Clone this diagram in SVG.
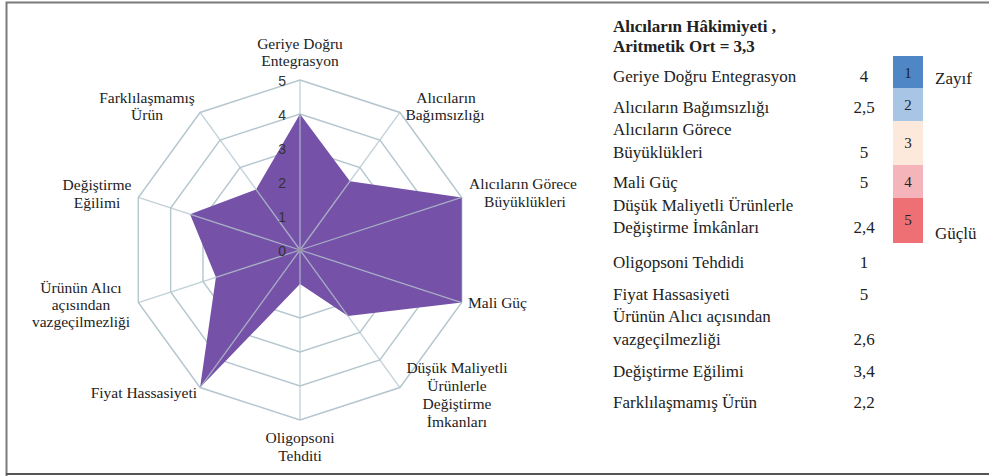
<svg xmlns="http://www.w3.org/2000/svg" width="989" height="476" viewBox="0 0 989 476">
<style>
.lbl{font-family:'Liberation Serif','Times New Roman','DejaVu Serif',serif;font-size:15.5px;fill:#222;text-anchor:middle}
.tbl{font-family:'Liberation Serif','Times New Roman','DejaVu Serif',serif;font-size:17px;fill:#222}
.val{text-anchor:middle}
.num{font-family:'Liberation Sans',Arial,sans-serif;font-size:14px;fill:#333;text-anchor:end}
.ring{fill:none;stroke:#b4c6ce;stroke-width:1.4}
.spoke{stroke:#b4c6ce;stroke-width:1.3;opacity:0.8}
.lg{font-family:'Liberation Serif','Times New Roman','DejaVu Serif',serif;font-size:15px;fill:#222;text-anchor:middle}
</style>
<rect x="0" y="0" width="989" height="476" fill="#fff"/>
<path d="M6.5,476 V2.5 H989" fill="none" stroke="#7a7a7a" stroke-width="2"/>
<line x1="6" y1="474" x2="989" y2="474" stroke="#555" stroke-width="2"/>

<g id="grid">
<polygon class="ring" points="300,216 319.99,222.49 332.34,239.49 332.34,260.51 319.99,277.51 300,284 280.01,277.51 267.66,260.51 267.66,239.49 280.01,222.49"/>
<polygon class="ring" points="300,182 339.97,194.99 364.67,228.99 364.67,271.01 339.97,305.01 300,318 260.03,305.01 235.33,271.01 235.33,228.99 260.03,194.99"/>
<polygon class="ring" points="300,148 359.96,167.48 397.01,218.48 397.01,281.52 359.96,332.52 300,352 240.04,332.52 202.99,281.52 202.99,218.48 240.04,167.48"/>
<polygon class="ring" points="300,114 379.94,139.98 429.35,207.98 429.35,292.02 379.94,360.02 300,386 220.06,360.02 170.65,292.02 170.65,207.98 220.06,139.98"/>
<polygon class="ring" points="300,80 399.93,112.47 461.69,197.47 461.69,302.53 399.93,387.53 300,420 200.07,387.53 138.31,302.53 138.31,197.47 200.07,112.47"/>
</g>

<g id="series">
<polygon points="300,114 349.96,181.23 461.69,197.47 461.69,302.53 347.96,316.01 300,284 200.07,387.53 215.92,277.32 190.05,214.28 256.03,189.49" fill="#7551a8"/>
</g>

<g id="spokes">
<line class="spoke" x1="300" y1="250" x2="300" y2="80"/>
<line class="spoke" x1="300" y1="250" x2="399.93" y2="112.47"/>
<line class="spoke" x1="300" y1="250" x2="461.69" y2="197.47"/>
<line class="spoke" x1="300" y1="250" x2="461.69" y2="302.53"/>
<line class="spoke" x1="300" y1="250" x2="399.93" y2="387.53"/>
<line class="spoke" x1="300" y1="250" x2="300" y2="420"/>
<line class="spoke" x1="300" y1="250" x2="200.07" y2="387.53"/>
<line class="spoke" x1="300" y1="250" x2="138.31" y2="302.53"/>
<line class="spoke" x1="300" y1="250" x2="138.31" y2="197.47"/>
<line class="spoke" x1="300" y1="250" x2="200.07" y2="112.47"/>
<circle cx="300" cy="250" r="2" fill="#999"/>
</g>

<g id="scale">
<text class="num" x="286" y="256">0</text>
<text class="num" x="286" y="222">1</text>
<text class="num" x="286" y="188">2</text>
<text class="num" x="286" y="154">3</text>
<text class="num" x="286" y="120">4</text>
<text class="num" x="286" y="86">5</text>
</g>

<g id="axis-labels">
<text class="lbl" x="300" y="49">Geriye Doğru</text>
<text class="lbl" x="300" y="66">Entegrasyon</text>
<text class="lbl" x="446" y="103">Alıcıların</text>
<text class="lbl" x="445" y="120">Bağımsızlığı</text>
<text class="lbl" x="523" y="189">Alıcıların Görece</text>
<text class="lbl" x="525" y="207">Büyüklükleri</text>
<text class="lbl" x="468" y="308" style="text-anchor:start">Mali Güç</text>
<text class="lbl" x="457" y="373">Düşük Maliyetli</text>
<text class="lbl" x="457" y="391">Ürünlerle</text>
<text class="lbl" x="457" y="409">Değiştirme</text>
<text class="lbl" x="457" y="427">İmkanları</text>
<text class="lbl" x="300" y="443">Oligopsoni</text>
<text class="lbl" x="300" y="461">Tehditi</text>
<text class="lbl" x="197" y="398" style="text-anchor:end">Fiyat Hassasiyeti</text>
<text class="lbl" x="81" y="293">Ürünün Alıcı</text>
<text class="lbl" x="81" y="310">açısından</text>
<text class="lbl" x="81" y="327">vazgeçilmezliği</text>
<text class="lbl" x="97" y="190">Değiştirme</text>
<text class="lbl" x="97" y="208">Eğilimi</text>
<text class="lbl" x="147" y="103">Farklılaşmamış</text>
<text class="lbl" x="147" y="120">Ürün</text>
</g>

<g id="table">
<text class="tbl" x="613" y="32" font-weight="bold">Alıcıların Hâkimiyeti ,</text>
<text class="tbl" x="613" y="52" font-weight="bold">Aritmetik Ort = 3,3</text>
<text class="tbl" x="613" y="82">Geriye Doğru Entegrasyon</text>
<text class="tbl val" x="864" y="82">4</text>
<text class="tbl" x="613" y="113">Alıcıların Bağımsızlığı</text>
<text class="tbl val" x="864" y="113">2,5</text>
<text class="tbl" x="613" y="135">Alıcıların Görece</text>
<text class="tbl" x="613" y="158">Büyüklükleri</text>
<text class="tbl val" x="864" y="158">5</text>
<text class="tbl" x="613" y="188">Mali Güç</text>
<text class="tbl val" x="864" y="188">5</text>
<text class="tbl" x="613" y="211">Düşük Maliyetli Ürünlerle</text>
<text class="tbl" x="613" y="233">Değiştirme İmkânları</text>
<text class="tbl val" x="864" y="233">2,4</text>
<text class="tbl" x="613" y="268">Oligopsoni Tehdidi</text>
<text class="tbl val" x="864" y="268">1</text>
<text class="tbl" x="613" y="300">Fiyat Hassasiyeti</text>
<text class="tbl val" x="864" y="300">5</text>
<text class="tbl" x="613" y="322">Ürünün Alıcı açısından</text>
<text class="tbl" x="613" y="345">vazgeçilmezliği</text>
<text class="tbl val" x="864" y="345">2,6</text>
<text class="tbl" x="613" y="377">Değiştirme Eğilimi</text>
<text class="tbl val" x="864" y="377">3,4</text>
<text class="tbl" x="613" y="408">Farklılaşmamış Ürün</text>
<text class="tbl val" x="864" y="408">2,2</text>
</g>

<g id="legend">
<rect x="893" y="56" width="30" height="32" fill="#4f86c6"/>
<rect x="893" y="88" width="30" height="33" fill="#a9c5e6"/>
<rect x="893" y="121" width="30" height="44" fill="#fde9dc"/>
<rect x="893" y="165" width="30" height="33" fill="#f4b4ba"/>
<rect x="893" y="198" width="30" height="45" fill="#ee6f74"/>
<text class="lg" x="908" y="78">1</text>
<text class="lg" x="908" y="110">2</text>
<text class="lg" x="908" y="148">3</text>
<text class="lg" x="908" y="187">4</text>
<text class="lg" x="908" y="225">5</text>
<text class="tbl" x="935" y="84" font-size="16">Zayıf</text>
<text class="tbl" x="935" y="239" font-size="16">Güçlü</text>
</g>
</svg>
